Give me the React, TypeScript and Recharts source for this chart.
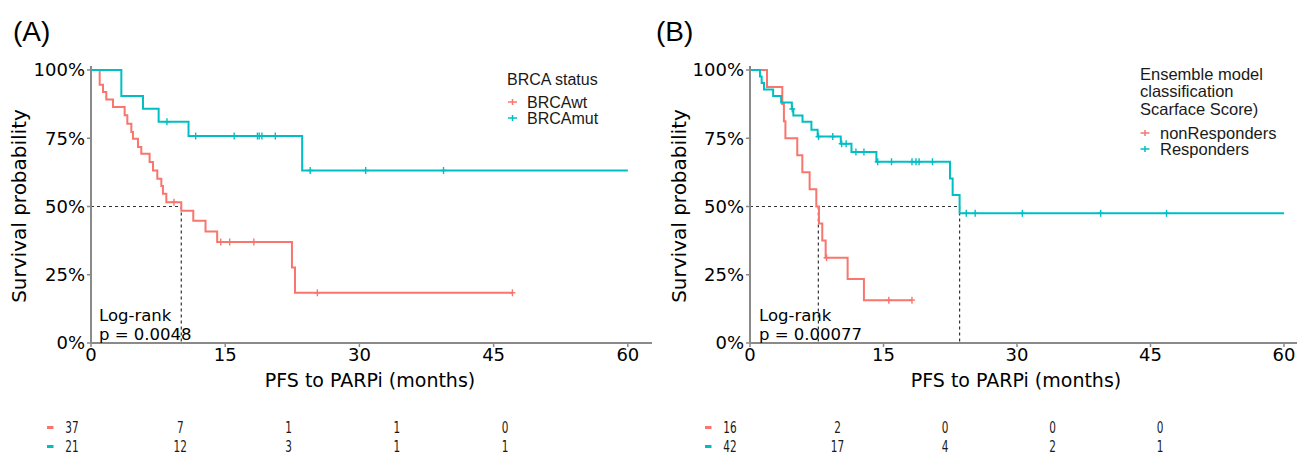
import React from 'react';
import { ComposedChart, Line, Scatter, XAxis, YAxis, ReferenceLine } from 'recharts';

const RED = '#F8766D';
const CYAN = '#00BFC4';

// ---------- Panel A data ----------
const aWtTimes = [0, 0.97, 1.34, 1.71, 2.46, 3.76, 4.06, 4.51, 4.69, 5.25, 5.62, 6.55, 6.93, 7.41, 7.86, 8.04, 8.42, 10.09, 11.43, 12.8, 14.1, 22.46, 22.8, 47.1];
const aWtSurv = [1, 0.946, 0.919, 0.892, 0.864, 0.834, 0.803, 0.773, 0.748, 0.718, 0.693, 0.663, 0.632, 0.602, 0.575, 0.547, 0.516, 0.484, 0.448, 0.408, 0.37, 0.277, 0.184, 0.184];
const aWtCensor = [9.27, 14.5, 15.5, 18.2, 25.3, 47.1];

const aMutTimes = [0, 3.39, 5.81, 7.56, 10.9, 23.6, 60];
const aMutSurv = [1, 0.905, 0.858, 0.81, 0.758, 0.632, 0.632];
const aMutCensor = [8.49, 11.7, 16.0, 18.6, 18.8, 19.1, 20.6, 24.5, 30.7, 39.4];

const aMedians = [10.09];

// ---------- Panel B data ----------
const bNonTimes = [0, 1.91, 3.63, 3.81, 3.98, 5.31, 5.88, 6.7, 7.45, 7.75, 8.12, 8.5, 10.97, 12.8, 18.2];
const bNonSurv = [1, 0.938, 0.875, 0.812, 0.75, 0.688, 0.625, 0.563, 0.5, 0.438, 0.375, 0.3125, 0.234, 0.157, 0.157];
const bNonCensor = [8.6, 15.6, 18.2];

const bResTimes = [0, 1.12, 1.31, 1.57, 2.6, 3.5, 4.7, 4.87, 5.9, 6.9, 7.6, 10.2, 11.4, 14.2, 22.47, 22.77, 23.55, 60];
const bResSurv = [1, 0.976, 0.952, 0.929, 0.905, 0.881, 0.857, 0.833, 0.81, 0.781, 0.756, 0.73, 0.7, 0.664, 0.603, 0.542, 0.475, 0.475];
const bResCensor = [4.75, 7.7, 9.3, 10.3, 10.8, 11.9, 12.8, 14.35, 15.9, 18.2, 18.65, 19.0, 20.5, 24.3, 25.3, 30.6, 39.4, 46.8];

const bMedians = [7.68, 23.55];

// ---------- Axes / risk tables ----------
const xTicks = [0, 15, 30, 45, 60];
const yTicks = [0, 0.25, 0.5, 0.75, 1];
const riskTimes = [0, 15, 30, 45, 60];
const aRiskWt = [37, 7, 1, 1, 0];
const aRiskMut = [21, 12, 3, 1, 1];
const bRiskNon = [16, 2, 0, 0, 0];
const bRiskRes = [42, 17, 4, 2, 1];

const toPts = (t: number[], s: number[]) => t.map((v, i) => ({ t: v, s: s[i] }));
const stepAt = (t: number[], s: number[], x: number) => {
  let v = s[0];
  for (let i = 0; i < t.length; i++) if (t[i] <= x) v = s[i];
  return v;
};
const censorPts = (t: number[], s: number[], c: number[]) => c.map((x) => ({ t: x, s: stepAt(t, s, x) }));

const makeCensor = (color: string) => (props: any) => {
  const { cx, cy } = props;
  if (cx == null || cy == null) return <g />;
  return (
    <g stroke={color} strokeWidth={1.4}>
      <line x1={cx} x2={cx} y1={cy - 3.5} y2={cy + 3.5} />
      <line x1={cx - 3} x2={cx + 3} y1={cy} y2={cy} />
    </g>
  );
};

const AXIS = '#8a8a8a';
const TICKFONT = { fontFamily: 'DejaVu Sans', fontSize: 18, fill: '#000' };
const YAXIS_W = 60;
const XAXIS_H = 40;

type PanelProps = {
  left: number;
  width: number;
  plotLeft: number;
  marginRight: number;
  xMax: number;
  series: { t: number[]; s: number[]; c: number[]; color: string }[];
  medians: number[];
};

const Panel = ({ left, width, plotLeft, marginRight, xMax, series, medians }: PanelProps) => {
  const maxMed = Math.max(...medians);
  return (
    <div style={{ position: 'absolute', left, top: 0 }}>
      <ComposedChart
        width={width}
        height={400}
        margin={{ top: 65.9, right: marginRight, bottom: 57 - XAXIS_H, left: plotLeft - YAXIS_W }}
      >
        <XAxis
          dataKey="t"
          type="number"
          domain={[0, xMax]}
          ticks={xTicks}
          height={XAXIS_H}
          tickSize={4}
          tickMargin={1}
          axisLine={{ stroke: AXIS, strokeWidth: 2 }}
          tickLine={{ stroke: AXIS, strokeWidth: 1.5 }}
          tick={TICKFONT}
          allowDataOverflow
        />
        <YAxis
          dataKey="s"
          type="number"
          domain={[0, 1.015]}
          ticks={yTicks}
          width={YAXIS_W}
          tickSize={4}
          tickMargin={2}
          axisLine={{ stroke: AXIS, strokeWidth: 2 }}
          tickLine={{ stroke: AXIS, strokeWidth: 1.5 }}
          tick={TICKFONT}
          tickFormatter={(v: number) => `${Math.round(v * 100)}%`}
          allowDataOverflow
        />
        <ReferenceLine
          segment={[{ x: 0, y: 0.5 }, { x: maxMed, y: 0.5 }]}
          stroke="#333"
          strokeWidth={1.2}
          strokeDasharray="3 3"
          ifOverflow="visible"
        />
        {medians.map((m, i) => (
          <ReferenceLine
            key={i}
            segment={[{ x: m, y: 0.5 }, { x: m, y: 0 }]}
            stroke="#333"
            strokeWidth={1.2}
            strokeDasharray="3 3"
            ifOverflow="visible"
          />
        ))}
        {series.map((sr, i) => (
          <Line
            key={'l' + i}
            data={toPts(sr.t, sr.s)}
            dataKey="s"
            type="stepAfter"
            stroke={sr.color}
            strokeWidth={2}
            dot={false}
            activeDot={false}
            isAnimationActive={false}
          />
        ))}
        {series.map((sr, i) => (
          <Scatter
            key={'c' + i}
            data={censorPts(sr.t, sr.s, sr.c)}
            dataKey="s"
            shape={makeCensor(sr.color)}
            isAnimationActive={false}
          />
        ))}
      </ComposedChart>
    </div>
  );
};

const makeRiskText = (color: string) => (props: any) => {
  const { cx, cy, payload } = props;
  if (cx == null || cy == null) return <g />;
  return (
    <g>
      {payload.t === 0 && <rect x={cx - 25} y={cy - 1.5} width={6.5} height={3} fill={color} />}
      <text
        transform={`translate(${cx},${cy}) scale(0.7,1)`}
        textAnchor="middle"
        dominantBaseline="central"
        fontFamily="DejaVu Sans"
        fontSize={15}
        fill="#1a1a1a"
      >
        {payload.n}
      </text>
    </g>
  );
};

const RiskTable = ({ left, width, marginLeft, marginRight, rows }: { left: number; width: number; marginLeft: number; marginRight: number; rows: { n: number[]; color: string; row: number }[] }) => (
  <div style={{ position: 'absolute', left, top: 410 }}>
    <ComposedChart width={width} height={45} margin={{ top: 17.5, right: marginRight, bottom: 8.5, left: marginLeft }}>
      <XAxis dataKey="t" type="number" domain={[0, 60]} hide height={0} />
      <YAxis dataKey="row" type="number" domain={[0, 1]} hide width={0} />
      {rows.map((r, i) => (
        <Scatter
          key={i}
          data={riskTimes.map((t, j) => ({ t, row: r.row, n: r.n[j] }))}
          dataKey="row"
          shape={makeRiskText(r.color)}
          isAnimationActive={false}
        />
      ))}
    </ComposedChart>
  </div>
);

const LegendMark = ({ x, y, color }: { x: number; y: number; color: string }) => (
  <g stroke={color} strokeWidth={1.5}>
    <line x1={x - 4.5} x2={x + 4.5} y1={y} y2={y} />
    <line x1={x} x2={x} y1={y - 3} y2={y + 3} />
  </g>
);

const Overlay = () => {
  const dj = 'DejaVu Sans';
  const lib = 'Liberation Sans, Arial, sans-serif';
  return (
    <svg width={1298} height={455} style={{ position: 'absolute', left: 0, top: 0, pointerEvents: 'none' }}>
      <text x={13} y={41} fontFamily={lib} fontSize={28} fill="#000">(A)</text>
      <text x={656} y={41} fontFamily={lib} fontSize={28} fill="#000">(B)</text>

      <text transform="translate(26,206) rotate(-90)" textAnchor="middle" fontFamily={dj} fontSize={20} fill="#000">Survival probability</text>
      <text transform="translate(686,206) rotate(-90)" textAnchor="middle" fontFamily={dj} fontSize={20} fill="#000">Survival probability</text>

      <text x={370} y={387} textAnchor="middle" fontFamily={dj} fontSize={19} fill="#000">PFS to PARPi (months)</text>
      <text x={1016} y={387} textAnchor="middle" fontFamily={dj} fontSize={19} fill="#000">PFS to PARPi (months)</text>

      <text x={99} y={320.5} fontFamily={dj} fontSize={16.5} fill="#000">Log-rank</text>
      <text x={99} y={339.5} fontFamily={dj} fontSize={16.5} fill="#000">p = 0.0048</text>
      <text x={759} y={320.5} fontFamily={dj} fontSize={16.5} fill="#000">Log-rank</text>
      <text x={759} y={339.5} fontFamily={dj} fontSize={16.5} fill="#000">p = 0.00077</text>

      <text x={507} y={84.5} fontFamily={lib} fontSize={16} fill="#1a1a1a">BRCA status</text>
      <LegendMark x={512.5} y={102} color={RED} />
      <text x={527} y={107.5} fontFamily={lib} fontSize={16} fill="#1a1a1a">BRCAwt</text>
      <LegendMark x={512.5} y={118} color={CYAN} />
      <text x={527} y={123.5} fontFamily={lib} fontSize={16} fill="#1a1a1a">BRCAmut</text>

      <text x={1140} y={80} fontFamily={lib} fontSize={16.5} fill="#1a1a1a">Ensemble model</text>
      <text x={1140} y={97} fontFamily={lib} fontSize={16.5} fill="#1a1a1a">classification</text>
      <text x={1140} y={115} fontFamily={lib} fontSize={16.5} fill="#1a1a1a">Scarface Score)</text>
      <LegendMark x={1145} y={133} color={RED} />
      <text x={1160} y={138.5} fontFamily={lib} fontSize={16.5} fill="#1a1a1a">nonResponders</text>
      <LegendMark x={1145} y={149} color={CYAN} />
      <text x={1160} y={154.5} fontFamily={lib} fontSize={16.5} fill="#1a1a1a">Responders</text>
    </svg>
  );
};

export default function App() {
  return (
    <div style={{ position: 'absolute', left: 0, top: 0, width: 1298, height: 455, background: '#fff', overflow: 'hidden' }}>
      <Panel
        left={0}
        width={660}
        plotLeft={91}
        marginRight={8}
        xMax={62.7}
        medians={aMedians}
        series={[
          { t: aWtTimes, s: aWtSurv, c: aWtCensor, color: RED },
          { t: aMutTimes, s: aMutSurv, c: aMutCensor, color: CYAN },
        ]}
      />
      <Panel
        left={660}
        width={638}
        plotLeft={90}
        marginRight={1}
        xMax={61.46}
        medians={bMedians}
        series={[
          { t: bNonTimes, s: bNonSurv, c: bNonCensor, color: RED },
          { t: bResTimes, s: bResSurv, c: bResCensor, color: CYAN },
        ]}
      />
      <RiskTable
        left={0}
        width={560}
        marginLeft={72}
        marginRight={55}
        rows={[
          { n: aRiskWt, color: RED, row: 1 },
          { n: aRiskMut, color: CYAN, row: 0 },
        ]}
      />
      <RiskTable
        left={660}
        width={560}
        marginLeft={70}
        marginRight={60}
        rows={[
          { n: bRiskNon, color: RED, row: 1 },
          { n: bRiskRes, color: CYAN, row: 0 },
        ]}
      />
      <Overlay />
    </div>
  );
}
